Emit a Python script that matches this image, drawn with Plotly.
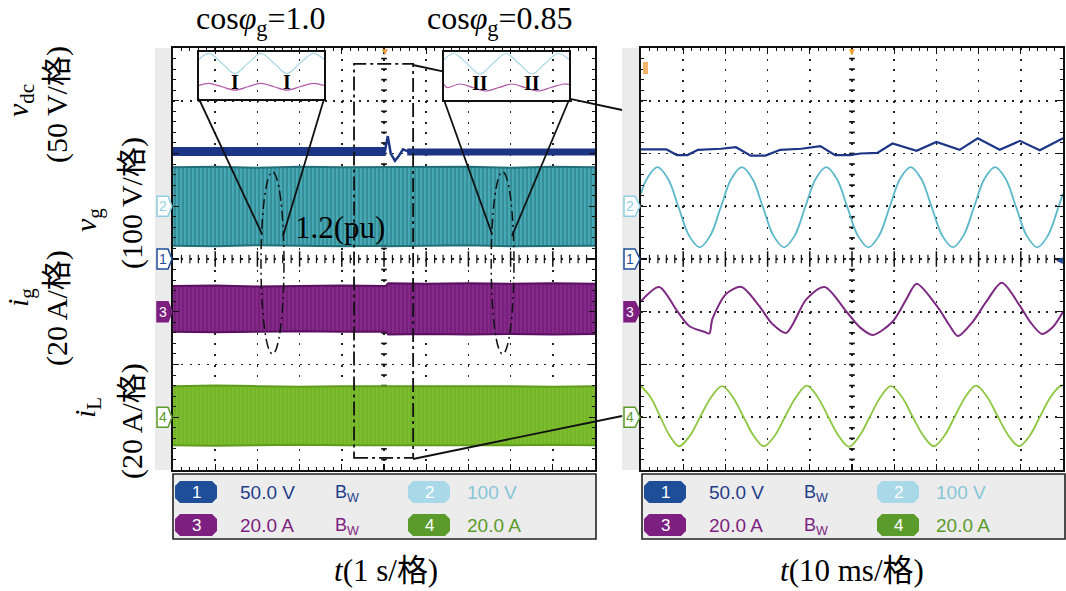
import numpy as np
import plotly.graph_objects as go

W, H = 1066, 591


def px(x):
    return x / W


def py(y):
    return 1 - y / H


# ------------------------------------------------------------------
# DATA (values in oscilloscope screen divisions, centre line = 0)
# ------------------------------------------------------------------
ch_names = ["1", "2", "3", "4"]
ch_offsets = [0.0, 1.0, -1.0, -3.0]

# left screen : 1 s/div
slow_t = [0, 1, 2, 3, 4, 5.04, 5.1, 6, 7, 8, 9, 10]
vg_slow_top = [1.74, 1.75, 1.73, 1.75, 1.74, 1.74, 1.75, 1.74, 1.75, 1.73, 1.75, 1.74]
vg_slow_bot = [0.25, 0.24, 0.26, 0.25, 0.24, 0.25, 0.24, 0.25, 0.26, 0.24, 0.25, 0.25]
ig_slow_top = [-0.51, -0.50, -0.52, -0.51, -0.50, -0.51, -0.46, -0.47, -0.46, -0.47, -0.46, -0.47]
ig_slow_bot = [-1.38, -1.39, -1.38, -1.37, -1.38, -1.38, -1.43, -1.42, -1.43, -1.42, -1.43, -1.42]
iL_slow_top = [-2.41, -2.40, -2.41, -2.42, -2.41, -2.41, -2.40, -2.41, -2.40, -2.41, -2.42, -2.41]
iL_slow_bot = [-3.53, -3.54, -3.53, -3.52, -3.53, -3.53, -3.54, -3.53, -3.54, -3.53, -3.52, -3.53]

vdc_slow_pre_t = [0, 5.04]
vdc_slow_pre_v = [2.04, 2.04]
vdc_slow_tr_t = [5.02, 5.09, 5.16, 5.26, 5.35, 5.45, 5.6]
vdc_slow_tr_v = [2.04, 2.33, 2.00, 1.86, 1.95, 2.08, 2.03]
vdc_slow_post_t = [5.55, 10]
vdc_slow_post_v = [2.03, 2.03]

trigger_slow = 5.02           # s
zoom_window_t = [4.29, 5.69]  # s, dashed box
zoom_window_y = [-3.77, 3.70]
pu_marks_t = [[2.085, 2.63], [7.54, 8.08]]
pu_marks_y = [-1.80, 1.65]

# right screen : 10 ms/div
fast_vg_t = [0, 1.4, 3.9, 6.4, 8.9, 11.4, 13.9, 16.4, 18.9, 21.4, 23.9, 26.4, 28.9, 31.4,
             33.9, 36.4, 38.9, 41.4, 43.9, 46.4, 48.9, 51.4, 53.9, 56.4, 58.9, 61.4, 63.9,
             66.4, 68.9, 71.4, 73.9, 76.4, 78.9, 81.4, 83.9, 86.4, 88.9, 91.4, 93.9, 96.4,
             98.9, 100]
fast_vg_v = [1.24, 1.52, 1.74, 1.52, 0.98, 0.44, 0.22, 0.44, 0.98, 1.52, 1.74, 1.52, 0.98,
             0.44, 0.22, 0.44, 0.98, 1.52, 1.74, 1.52, 0.98, 0.44, 0.22, 0.44, 0.98, 1.52,
             1.74, 1.52, 0.98, 0.44, 0.22, 0.44, 0.98, 1.52, 1.74, 1.52, 0.98, 0.44, 0.22,
             0.44, 0.98, 1.24]

fast_ig_t = [0, 4.3, 8.6, 11.4, 15.0, 16.2, 16.9, 20.2, 23.8, 28.0, 31.1, 34.4, 39.2,
             43.5, 48.7, 51.8, 54.9, 59.6, 62.9, 65.3, 70.1, 73.2, 75.1, 78.6, 81.9,
             85.5, 89.8, 92.2, 95.0, 97.6, 100]
fast_ig_v = [-0.80, -0.53, -0.99, -1.27, -1.38, -1.41, -1.14, -0.66, -0.53, -0.89, -1.23,
             -1.40, -0.76, -0.53, -1.00, -1.29, -1.44, -1.19, -0.76, -0.47, -0.89, -1.27,
             -1.46, -1.19, -0.80, -0.45, -0.89, -1.19, -1.42, -1.29, -1.00]

fast_iL_t = [0, 2.2, 4.5, 6.8, 9.0, 11.6, 14.1, 16.7, 19.2, 21.7, 24.2, 26.7, 29.1, 31.7,
             34.2, 36.8, 39.3, 41.8, 44.3, 46.8, 49.3, 51.8, 54.3, 56.8, 59.2, 61.8, 64.3,
             66.9, 69.4, 71.9, 74.4, 76.9, 79.4, 82.0, 84.5, 87.1, 89.6, 92.1, 94.6, 97.1,
             99.5, 100]
fast_iL_v = [-2.41, -2.61, -2.98, -3.35, -3.55, -3.35, -2.98, -2.61, -2.41, -2.61, -2.98,
             -3.35, -3.55, -3.35, -2.98, -2.61, -2.40, -2.61, -2.98, -3.35, -3.56, -3.35,
             -2.98, -2.61, -2.41, -2.61, -2.98, -3.35, -3.55, -3.35, -2.98, -2.61, -2.40,
             -2.61, -2.98, -3.35, -3.55, -3.35, -2.98, -2.61, -2.40, -2.40]

fast_vdc_t = [0, 6, 8.5, 11, 13.5, 19, 22.5, 26, 29.5, 33, 38, 42.5, 46, 49.5, 52, 56,
              59.6, 65.3, 70.0, 75.5, 79.8, 85.0, 89.8, 94.5, 100]
fast_vdc_v = [2.08, 2.08, 1.97, 1.97, 2.07, 2.09, 2.12, 1.96, 1.96, 2.07, 2.09, 2.14,
              1.97, 1.97, 2.00, 2.01, 2.19, 2.05, 2.22, 2.07, 2.29, 2.07, 2.24, 2.06, 2.29]
trigger_fast = 50.0  # ms

# insets (inset time in ms, inset vertical units)
inset_t = [0, 3.8, 8.8, 13.8, 18.8, 23.8, 28.8, 33.8, 38.8, 43.8, 48]
inset_vg = [40.5, 46.5, 36.5, 26.0, 36.5, 46.5, 36.5, 26.0, 36.5, 46.5, 40.5]
inset_ig1 = [13.8, 16.0, 12.5, 9.0, 12.5, 16.0, 12.5, 9.0, 12.5, 16.0, 13.8]
inset_ig2_t = [0, 1.1, 6.1, 11.1, 16.1, 21.1, 26.1, 31.1, 36.1, 41.1, 46.1, 48]
inset_ig2 = [15.6, 12.5, 16.0, 12.5, 9.0, 12.5, 16.0, 12.5, 9.0, 12.5, 16.0, 15.6]
inset_marks_t = [13.8, 33.8]

# scope read-out
ch_colors = {"1": "#1f4e99", "2": "#a9d9e8", "3": "#7c1f80", "4": "#5b9b2b"}
ch_text_colors = {"1": "#1f3d8a", "2": "#86c6d8", "3": "#7c1f80", "4": "#5b9b2b"}
ch_scales = {"1": "50.0 V", "2": "100 V", "3": "20.0 A", "4": "20.0 A"}

C_VDC = "#1c3585"
C_VG_LINE, C_IG_LINE, C_IL_LINE = "#5ab8ca", "#7d2a83", "#8dc63f"
# band styles: (edge colour, pattern bg, pattern fg)
VG_BAND = ("#22707a", "#47a9b5", "#1f6b75")
IG_BAND = ("#5b0f60", "#84298a", "#5a0c5f")
IL_BAND = ("#5f9c1c", "#7cbd2e", "#62a11f")

SERIF = "Liberation Serif, Times New Roman, Noto Sans CJK SC, serif"
SANS = "Liberation Sans, Arial, sans-serif"

fig = go.Figure()


def add_band(xa, ya, t, top, bot, style, solidity):
    edge, bg, fg = style
    fig.add_trace(go.Scatter(x=t, y=bot, xaxis=xa, yaxis=ya, mode="lines",
                             line=dict(color=edge, width=2), hoverinfo="skip", showlegend=False))
    fig.add_trace(go.Scatter(x=t, y=top, xaxis=xa, yaxis=ya, mode="lines", fill="tonexty",
                             fillcolor=bg,
                             fillpattern=dict(shape="|", bgcolor=bg, fgcolor=fg, size=4,
                                              solidity=solidity, fillmode="overlay"),
                             line=dict(color=edge, width=2),
                             hoverinfo="skip", showlegend=False))


def add_line(xa, ya, t, v, color, width, shape="linear", smoothing=1.0):
    fig.add_trace(go.Scatter(x=t, y=v, xaxis=xa, yaxis=ya, mode="lines",
                             line=dict(color=color, width=width, shape=shape, smoothing=smoothing),
                             hoverinfo="skip", showlegend=False))


def add_centre_ticks(xa, ya, xmax, xmin_step, ymax):
    # graticule: centre cross with small ticks
    xs = np.round(np.arange(0, xmax + 1e-9, xmin_step), 4)[1:-1]
    is_major = np.isclose(xs / (xmin_step * 5), np.round(xs / (xmin_step * 5)))
    major, minor = xs[is_major], xs[~is_major]
    fig.add_trace(go.Scatter(x=minor, y=[0] * len(minor), xaxis=xa, yaxis=ya, mode="markers",
                             marker=dict(symbol="line-ns", size=6, line=dict(width=1.2, color="#111")),
                             hoverinfo="skip", showlegend=False))
    fig.add_trace(go.Scatter(x=major, y=[0] * len(major), xaxis=xa, yaxis=ya, mode="markers",
                             marker=dict(symbol="line-ns", size=11, line=dict(width=1.5, color="#111")),
                             hoverinfo="skip", showlegend=False))
    ys = np.round(np.arange(-ymax, ymax + 1e-9, 0.2), 4)[1:-1]
    fig.add_trace(go.Scatter(x=[xmax / 2] * len(ys), y=ys, xaxis=xa, yaxis=ya, mode="markers",
                             marker=dict(symbol="line-ew", size=4, line=dict(width=1.7, color="#111")),
                             hoverinfo="skip", showlegend=False))


# ---------------- left screen ----------------
add_centre_ticks("x", "y", 10, 0.2, 4)
add_band("x", "y", slow_t, vg_slow_top, vg_slow_bot, VG_BAND, 0.45)
add_band("x", "y", slow_t, ig_slow_top, ig_slow_bot, IG_BAND, 0.35)
add_band("x", "y", slow_t, iL_slow_top, iL_slow_bot, IL_BAND, 0.3)
add_line("x", "y", vdc_slow_pre_t, vdc_slow_pre_v, C_VDC, 9)
add_line("x", "y", vdc_slow_post_t, vdc_slow_post_v, C_VDC, 7)
add_line("x", "y", vdc_slow_tr_t, vdc_slow_tr_v, C_VDC, 2.5)

# ---------------- right screen ----------------
add_centre_ticks("x2", "y2", 100, 2, 4)
add_line("x2", "y2", fast_vdc_t, fast_vdc_v, C_VDC, 2.2)
add_line("x2", "y2", fast_vg_t, fast_vg_v, C_VG_LINE, 1.8, "spline")
add_line("x2", "y2", fast_ig_t, fast_ig_v, C_IG_LINE, 2.0, "spline", 0.8)
add_line("x2", "y2", fast_iL_t, fast_iL_v, C_IL_LINE, 1.8, "spline")

# ---------------- insets ----------------
add_line("x3", "y3", inset_t, inset_vg, "#a8d8e4", 1.2, "spline")
add_line("x3", "y3", inset_t, inset_ig1, "#b05aa8", 1.2, "spline")
add_line("x4", "y4", inset_t, inset_vg, "#a8d8e4", 1.2, "spline")
add_line("x4", "y4", inset_ig2_t, inset_ig2, "#b05aa8", 1.2, "spline")

# ---------------- axes ----------------
y_dom = [py(470), py(48)]


def scope_axis(domain, rng, dtick, dots_px, anchor):
    return dict(domain=domain, range=rng, dtick=dtick, tick0=0, anchor=anchor,
                showgrid=True, gridcolor="#222", gridwidth=1.6, griddash=dots_px,
                zeroline=False, showline=True, linecolor="#111", linewidth=2, mirror="ticks",
                ticks="inside", ticklen=6, tickwidth=1.4, tickcolor="#111",
                minor=dict(ticks="inside", ticklen=3, dtick=dtick / 5, tickcolor="#111",
                           tickwidth=1, showgrid=False),
                showticklabels=False, fixedrange=True)


def inset_axis(domain, rng, anchor):
    return dict(domain=domain, range=rng, anchor=anchor, showgrid=False, zeroline=False,
                showline=True, linecolor="#111", linewidth=2, mirror=True,
                showticklabels=False, ticks="", fixedrange=True)


layout = dict(
    width=W, height=H, margin=dict(l=0, r=0, t=0, b=0),
    paper_bgcolor="white", plot_bgcolor="rgba(0,0,0,0)", showlegend=False,
    xaxis=scope_axis([px(173), px(595)], [0, 10], 1, "2px,8.55px", "y"),
    yaxis=scope_axis(y_dom, [-4, 4], 1, "2px,6.44px", "x"),
    xaxis2=scope_axis([px(641), px(1063)], [0, 100], 10, "2px,8.55px", "y2"),
    yaxis2=scope_axis(y_dom, [-4, 4], 1, "2px,6.44px", "x2"),
    xaxis3=inset_axis([px(199), px(324)], [0, 48], "y3"),
    yaxis3=inset_axis([py(99), py(52)], [0, 48], "x3"),
    xaxis4=inset_axis([px(444), px(569)], [0, 48], "y4"),
    yaxis4=inset_axis([py(100), py(52)], [0, 48], "x4"),
)
fig.update_layout(**layout)

shapes = []
ann = []

# gray side strips
for x0, x1 in [(155, 172), (622, 640)]:
    shapes.append(dict(type="rect", xref="paper", yref="paper", x0=px(x0), x1=px(x1),
                       y0=py(470), y1=py(48), fillcolor="#ebebeb", line=dict(width=0), layer="below"))


def marker_path(x0, x1, xt, yc, h=0.19):
    return (f"M{px(x0)},{yc + h} L{px(x1)},{yc + h} L{px(xt)},{yc} "
            f"L{px(x1)},{yc - h} L{px(x0)},{yc - h} Z")


for (xs, yref) in [((157, 168, 172), "y"), ((624, 635, 640), "y2")]:
    for name, off in zip(ch_names, ch_offsets):
        filled = name == "3"
        col = ch_colors[name] if name != "2" else "#8fcfe0"
        shapes.append(dict(type="path", xref="paper", yref=yref,
                           path=marker_path(xs[0], xs[1], xs[2], off),
                           fillcolor=col if filled else "white",
                           line=dict(color=col, width=1.5)))
        ann.append(dict(xref="paper", yref=yref, x=px((xs[0] + xs[1]) / 2 + 0.5), y=off,
                        text=name, showarrow=False,
                        font=dict(family=SANS, size=14, color="white" if filled else col)))

# read-out boxes
for bx in [173, 642]:
    shapes.append(dict(type="rect", xref="paper", yref="paper", x0=px(bx), x1=px(bx + 423),
                       y0=py(539), y1=py(474), fillcolor="#ececec",
                       line=dict(color="#222", width=1.6)))
    rows = [(492, ["1", "2"]), (525, ["3", "4"])]
    for yc, (a, b) in rows:
        for name, off, toff in [(a, 2, 65), (b, 235, 292)]:
            x0, x1 = bx + off, bx + off + 42
            c = 5
            y0, y1 = yc - 11, yc + 11
            path = (f"M{px(x0 + c)},{py(y0)} L{px(x1 - c)},{py(y0)} L{px(x1)},{py(y0 + c)} "
                    f"L{px(x1)},{py(y1 - c)} L{px(x1 - c)},{py(y1)} L{px(x0 + c)},{py(y1)} "
                    f"L{px(x0)},{py(y1 - c)} L{px(x0)},{py(y0 + c)} Z")
            shapes.append(dict(type="path", xref="paper", yref="paper", path=path,
                               fillcolor=ch_colors[name], line=dict(width=0)))
            ann.append(dict(xref="paper", yref="paper", x=px((x0 + x1) / 2), y=py(yc),
                            text=name, showarrow=False,
                            font=dict(family=SANS, size=17, color="white")))
            ann.append(dict(xref="paper", yref="paper", x=px(bx + toff), y=py(yc),
                            xanchor="left", text=ch_scales[name], showarrow=False,
                            font=dict(family=SANS, size=19, color=ch_text_colors[name])))
        ann.append(dict(xref="paper", yref="paper", x=px(bx + 160), y=py(yc + 1),
                        xanchor="left", text="B<sub>W</sub>", showarrow=False,
                        font=dict(family=SANS, size=18, color=ch_text_colors[a])))

# zoom window (dash-dot box) and 1.2 pu ellipses
DD = "14px,4px,3px,4px"
shapes.append(dict(type="rect", xref="x", yref="y", x0=zoom_window_t[0], x1=zoom_window_t[1],
                   y0=zoom_window_y[0], y1=zoom_window_y[1],
                   line=dict(color="#111", width=1.8, dash=DD)))
for (t0, t1) in pu_marks_t:
    shapes.append(dict(type="circle", xref="x", yref="y", x0=t0, x1=t1,
                       y0=pu_marks_y[0], y1=pu_marks_y[1],
                       line=dict(color="#111", width=1.5, dash="10px,4px,2px,4px")))

# connecting lines (pixel positions of the annotation graphics)
for (x0, y0, x1, y1) in [(199, 99, 262, 234), (324, 99, 283, 236), (444, 100, 492, 234),
                         (569, 100, 512, 236), (413, 65, 444, 71.7), (569, 98.6, 622, 110),
                         (413, 459, 622, 416)]:
    shapes.append(dict(type="line", xref="paper", yref="paper", x0=px(x0), y0=py(y0),
                       x1=px(x1), y1=py(y1), line=dict(color="#111", width=1.8)))

# orange mark in right screen
shapes.append(dict(type="rect", xref="paper", yref="paper", x0=px(643), x1=px(648),
                   y0=py(74), y1=py(62), fillcolor="#f2b36b", line=dict(width=0)))

# trigger markers
ann.append(dict(xref="x", yref="paper", x=trigger_slow, y=py(51), text="▼", showarrow=False,
                font=dict(size=10, color="#f0a030")))
ann.append(dict(xref="x2", yref="paper", x=trigger_fast, y=py(51), text="▼", showarrow=False,
                font=dict(size=10, color="#f0a030")))
ann.append(dict(xref="paper", yref="y2", x=px(1059), y=0, text="◀", showarrow=False,
                font=dict(size=9, color="#1f4e99")))

# inset marks
for t in inset_marks_t:
    ann.append(dict(xref="x3", yref="y3", x=t, y=17.5, text="<b>I</b>", showarrow=False,
                    font=dict(family=SERIF, size=20, color="black")))
    ann.append(dict(xref="x4", yref="y4", x=t, y=17.5, text="<b>II</b>", showarrow=False,
                    font=dict(family=SERIF, size=20, color="black")))

# texts
ann.append(dict(xref="paper", yref="paper", x=px(340), y=py(227), text="1.2(pu)", showarrow=False,
                font=dict(family=SERIF, size=31, color="black")))
ann.append(dict(xref="paper", yref="paper", x=px(261), y=py(20),
                text="cos<i>φ</i><sub>g</sub>=1.0", showarrow=False,
                font=dict(family=SERIF, size=32, color="black")))
ann.append(dict(xref="paper", yref="paper", x=px(500), y=py(20),
                text="cos<i>φ</i><sub>g</sub>=0.85", showarrow=False,
                font=dict(family=SERIF, size=32, color="black")))
ann.append(dict(xref="paper", yref="paper", x=px(386), y=py(570),
                text="<i>t</i>(1 s/格)", showarrow=False,
                font=dict(family=SERIF, size=31, color="black")))
ann.append(dict(xref="paper", yref="paper", x=px(852), y=py(570),
                text="<i>t</i>(10 ms/格)", showarrow=False,
                font=dict(family=SERIF, size=31, color="black")))

# rotated channel labels
side_labels = [
    ("<i>v</i><sub>dc</sub>", 20, 101), ("(50 V/格)", 57, 105),
    ("<i>v</i><sub>g</sub>", 88, 220), ("(100 V/格)", 132, 203),
    ("<i>i</i><sub>g</sub>", 20, 298), ("(20 A/格)", 57, 308),
    ("<i>i</i><sub>L</sub>", 87, 408), ("(20 A/格)", 132, 421),
]
for text, x, y in side_labels:
    ann.append(dict(xref="paper", yref="paper", x=px(x), y=py(y), text=text, textangle=-90,
                    showarrow=False, font=dict(family=SERIF, size=30, color="black")))

for a in ann:
    a.setdefault("xanchor", "center")
    a.setdefault("yanchor", "middle")

fig.update_layout(shapes=shapes, annotations=ann)
fig.write_html("out.html", config={"displayModeBar": False, "staticPlot": True})

# remove the default page margin so the figure sits at the window origin
with open("out.html", encoding="utf-8") as f:
    html = f.read()
html = html.replace("<head>", "<head><style>html,body{margin:0;padding:0;overflow:hidden;}</style>", 1)
with open("out.html", "w", encoding="utf-8") as f:
    f.write(html)
